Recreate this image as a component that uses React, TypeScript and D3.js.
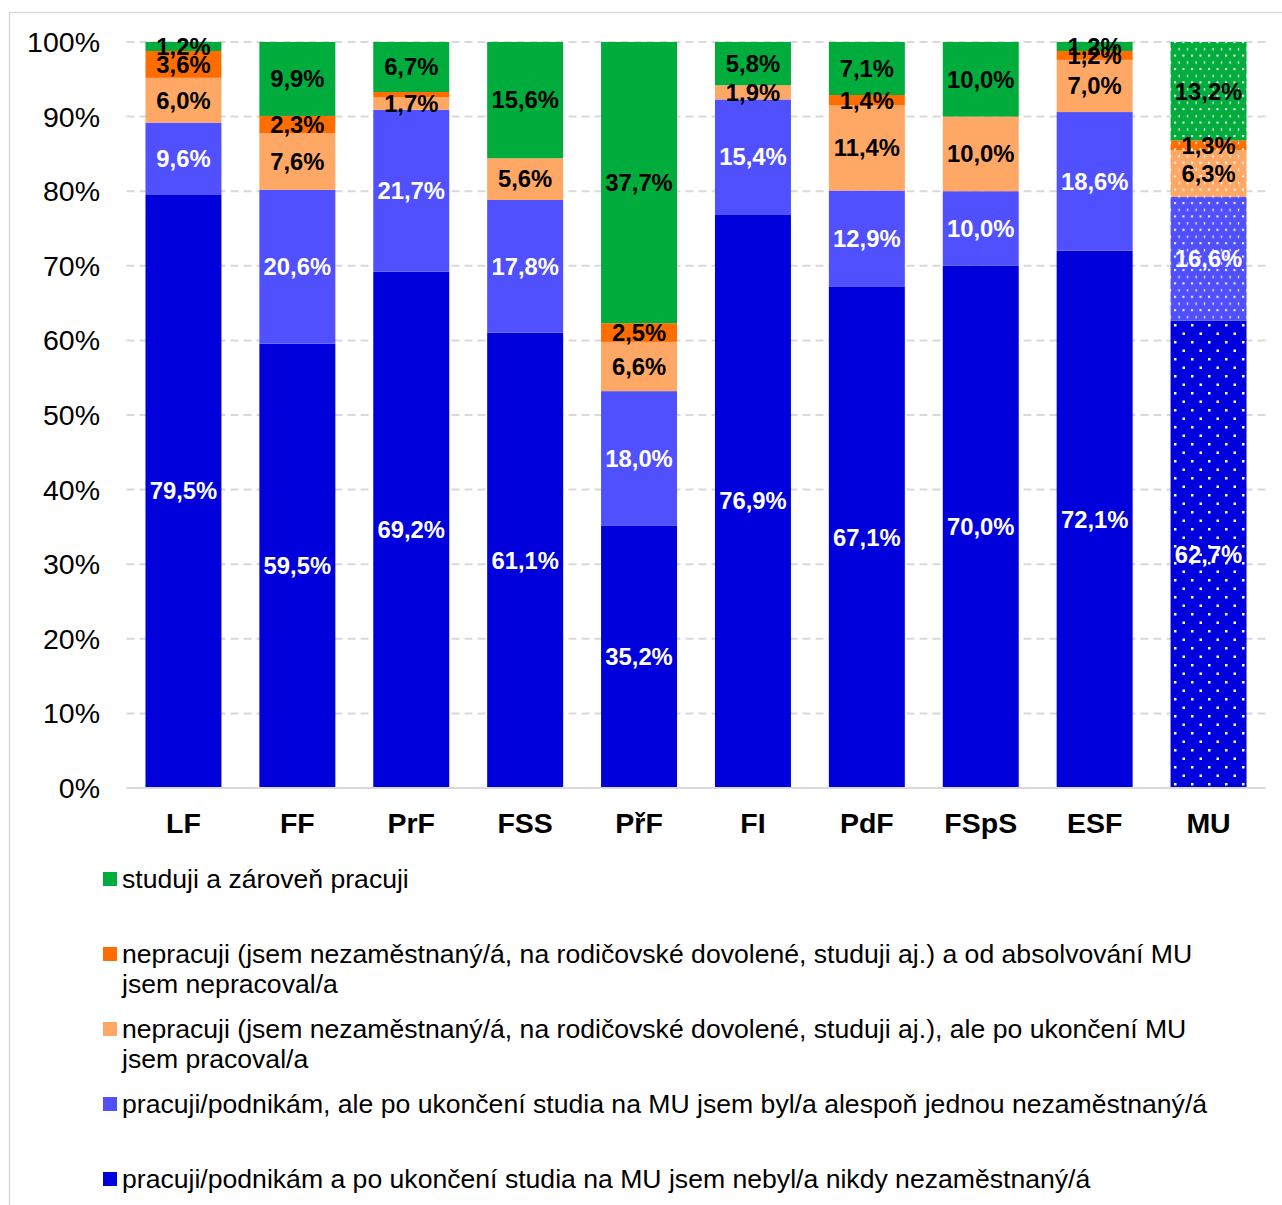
import React from "react";
import * as d3 from "d3";

const categories = ["LF", "FF", "PrF", "FSS", "PřF", "FI", "PdF", "FSpS", "ESF", "MU"];
const neverUnemployed = [79.5, 59.5, 69.2, 61.1, 35.2, 76.9, 67.1, 70.0, 72.1, 62.7];
const onceUnemployed = [9.6, 20.6, 21.7, 17.8, 18.0, 15.4, 12.9, 10.0, 18.6, 16.6];
const notWorkingWorked = [6.0, 7.6, 1.7, 5.6, 6.6, 1.9, 11.4, 10.0, 7.0, 6.3];
const notWorkingNever = [3.6, 2.3, 0.7, 0, 2.5, 0, 1.4, 0, 1.2, 1.3];
const studyWork = [1.2, 9.9, 6.7, 15.6, 37.7, 5.8, 7.1, 10.0, 1.2, 13.2];
const yTicks = [0, 10, 20, 30, 40, 50, 60, 70, 80, 90, 100];

const seriesKeys = ["never", "once", "nwWorked", "nwNever", "study"];
const seriesValues: Record<string, number[]> = {
  never: neverUnemployed,
  once: onceUnemployed,
  nwWorked: notWorkingWorked,
  nwNever: notWorkingNever,
  study: studyWork,
};
const colors: Record<string, string> = {
  never: "#0000DC",
  once: "#5050FF",
  nwWorked: "#FFA764",
  nwNever: "#FF6D00",
  study: "#00AC3C",
};
const labelColors: Record<string, string> = {
  never: "#ffffff",
  once: "#ffffff",
  nwWorked: "#000000",
  nwNever: "#000000",
  study: "#000000",
};
const legendItems = [
  { key: "study", lines: ["studuji a zároveň pracuji"] },
  {
    key: "nwNever",
    lines: [
      "nepracuji (jsem nezaměstnaný/á, na rodičovské dovolené, studuji aj.) a od absolvování MU",
      "jsem nepracoval/a",
    ],
  },
  {
    key: "nwWorked",
    lines: [
      "nepracuji (jsem nezaměstnaný/á, na rodičovské dovolené, studuji aj.), ale po ukončení MU",
      "jsem pracoval/a",
    ],
  },
  {
    key: "once",
    lines: ["pracuji/podnikám, ale po ukončení studia na MU jsem byl/a alespoň jednou nezaměstnaný/á"],
  },
  {
    key: "never",
    lines: ["pracuji/podnikám a po ukončení studia na MU jsem nebyl/a nikdy nezaměstnaný/á"],
  },
];

const FONT = "'Liberation Sans', Arial, sans-serif";

export default function App() {
  const W = 1282;
  const H = 1205;
  const x0 = 126.5;
  const x1 = 1265.5;
  const yTop = 42;
  const yBot = 788;

  const rows = categories.map((c, i) => {
    const r: any = { cat: c };
    seriesKeys.forEach((k) => (r[k] = seriesValues[k][i]));
    return r;
  });
  const stacked = d3.stack<any>().keys(seriesKeys).offset(d3.stackOffsetExpand)(rows);

  const x = d3.scaleBand<string>().domain(categories).range([x0, x1]).paddingInner(0.333).paddingOuter(0.1665);
  const y = d3.scaleLinear().domain([0, 1]).range([yBot, yTop]);
  const yAxis = d3.scaleLinear().domain([0, 100]).range([yBot, yTop]);

  const fmt = (v: number) => v.toFixed(1).replace(".", ",") + "%";

  return (
    <svg width={W} height={H} style={{ position: "absolute", left: 0, top: 0 }} fontFamily={FONT}>
      <defs>
        {seriesKeys.map((k) =>
          k === "never" ? (
            <pattern key={k} id={"pat-" + k} patternUnits="userSpaceOnUse" width={17} height={17}>
              <rect width={17} height={17} fill={colors[k]} />
              <rect x={1} y={1} width={2.5} height={2.5} fill="#fff" />
              <rect x={9.5} y={9.5} width={2.5} height={2.5} fill="#fff" />
            </pattern>
          ) : (
            <pattern key={k} id={"pat-" + k} patternUnits="userSpaceOnUse" width={8.5} height={13.4}>
              <rect width={8.5} height={13.4} fill={colors[k]} />
              <rect x={1} y={1} width={2} height={2} fill="#fff" />
              <rect x={5.5} y={7.7} width={1.2} height={2.5} fill="#fff" />
            </pattern>
          )
        )}
      </defs>
      <rect x={0} y={0} width={W} height={H} fill="#fff" />
      <rect x={9.5} y={12.5} width={W + 10} height={H + 10} fill="none" stroke="#d9d9d9" strokeWidth={1.5} />

      {yTicks.map((t) => (
        <g key={t}>
          {t > 0 && (
            <line
              x1={x0}
              x2={x1}
              y1={yAxis(t)}
              y2={yAxis(t)}
              stroke="#d9d9d9"
              strokeWidth={2}
              strokeDasharray="8,5"
            />
          )}
          <text x={100} y={yAxis(t)} dy="0.35em" textAnchor="end" fontSize={28.5} fill="#000">
            {t + "%"}
          </text>
        </g>
      ))}

      {stacked.map((s) => (
        <g key={s.key}>
          {s.map((d, i) => {
            const cat = categories[i];
            const isMU = cat === "MU";
            const h = y(d[0]) - y(d[1]);
            if (h <= 0) return null;
            return (
              <rect
                key={cat}
                x={x(cat)}
                y={y(d[1])}
                width={x.bandwidth()}
                height={h}
                fill={isMU ? `url(#pat-${s.key})` : colors[s.key]}
              />
            );
          })}
        </g>
      ))}

      <line x1={x0} x2={x1} y1={yBot} y2={yBot} stroke="#d9d9d9" strokeWidth={2} />

      {stacked.map((s) => (
        <g key={"l" + s.key}>
          {s.map((d, i) => {
            const cat = categories[i];
            const v = seriesValues[s.key][i];
            if (v < 1) return null;
            const cy = (y(d[0]) + y(d[1])) / 2;
            return (
              <text
                key={cat}
                x={(x(cat) as number) + x.bandwidth() / 2}
                y={cy}
                dy="0.35em"
                textAnchor="middle"
                fontSize={23.8}
                fontWeight="bold"
                fill={labelColors[s.key]}
              >
                {fmt(v)}
              </text>
            );
          })}
        </g>
      ))}

      {categories.map((c) => (
        <text
          key={c}
          x={(x(c) as number) + x.bandwidth() / 2}
          y={833}
          textAnchor="middle"
          fontSize={28.5}
          fontWeight="bold"
          fill="#000"
        >
          {c}
        </text>
      ))}

      {legendItems.map((it, i) => {
        const cy = 879 + i * 75;
        return (
          <g key={it.key}>
            <rect x={103} y={cy - 7} width={14} height={14} fill={colors[it.key]} />
            {it.lines.map((ln, j) => (
              <text key={j} x={122} y={cy + j * 30} dy="0.35em" fontSize={26.6} fill="#000">
                {ln}
              </text>
            ))}
          </g>
        );
      })}
    </svg>
  );
}
